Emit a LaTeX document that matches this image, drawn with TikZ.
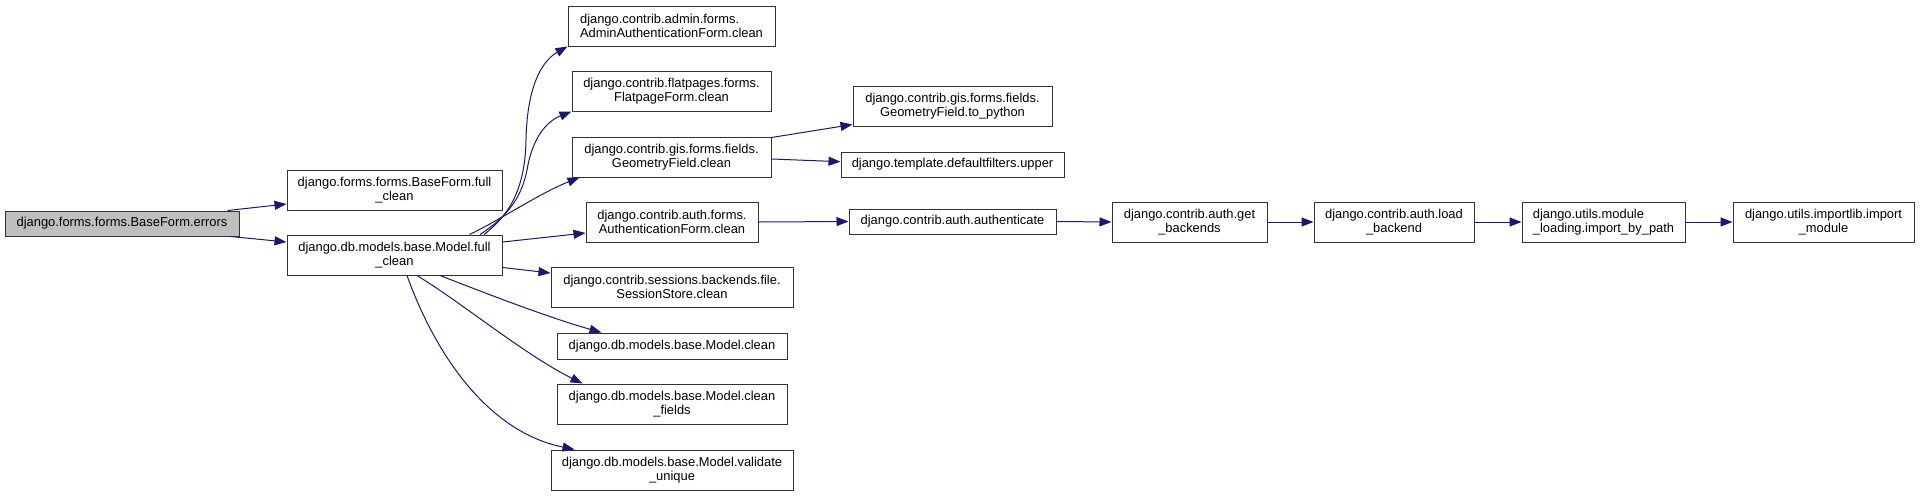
\documentclass[tikz,border=0pt]{standalone}
\usepackage{fontspec}
\setmainfont{Liberation Sans}
\usetikzlibrary{arrows.meta,calc}
\definecolor{dxblue}{HTML}{191970}
\definecolor{dxgrey}{HTML}{BFBFBF}
\definecolor{dxborder}{HTML}{333333}
\newcommand\dgfont{\fontsize{12.9}{13.6}\selectfont}
\tikzset{
  fn/.style={draw=dxborder, line width=1pt, fill=white, inner sep=0pt, align=center, font=\dgfont, text=black},
  callarrow/.style={draw=dxblue, line width=1pt, -{Triangle[length=12pt,width=9pt]}}
}
\begin{document}
\begin{tikzpicture}[x=1pt,y=-1pt]
\fill[white] (0,0) rectangle (1920,496);
\useasboundingbox (0,0) rectangle (1920,496);

\node[fn, fill=dxgrey, minimum width=234pt, minimum height=25pt] (errors) at (122,223.5) {django.forms.forms.BaseForm.errors};
\node[fn, minimum width=215pt, minimum height=40pt] (bff) at (394.5,190) {django.forms.forms.BaseForm.full\\\_clean};
\node[fn, minimum width=215pt, minimum height=40pt] (mfc) at (394.5,255) {django.db.models.base.Model.full\\\_clean};

\node[fn, align=left, minimum width=207pt, minimum height=40pt] (admin) at (671.5,26) {django.contrib.admin.forms.\\AdminAuthenticationForm.clean};
\node[fn, minimum width=199pt, minimum height=40pt] (flat) at (671.5,91) {django.contrib.flatpages.forms.\\FlatpageForm.clean};
\node[fn, minimum width=199pt, minimum height=40pt] (geo) at (671.5,157) {django.contrib.gis.forms.fields.\\GeometryField.clean};
\node[fn, minimum width=172pt, minimum height=40pt] (authf) at (672,222) {django.contrib.auth.forms.\\AuthenticationForm.clean};
\node[fn, minimum width=242pt, minimum height=40pt] (sess) at (672,287) {django.contrib.sessions.backends.file.\\SessionStore.clean};
\node[fn, minimum width=230pt, minimum height=26pt] (mclean) at (672,346) {django.db.models.base.Model.clean};
\node[fn, minimum width=230pt, minimum height=40pt] (cfields) at (672,404) {django.db.models.base.Model.clean\\\_fields};
\node[fn, minimum width=242pt, minimum height=40pt] (valid) at (672,470) {django.db.models.base.Model.validate\\\_unique};

\node[fn, minimum width=199pt, minimum height=40pt] (topy) at (952.5,106) {django.contrib.gis.forms.fields.\\GeometryField.to\_python};
\node[fn, minimum width=223pt, minimum height=25pt] (upper) at (952.5,164.5) {django.template.defaultfilters.upper};
\node[fn, minimum width=207pt, minimum height=25pt] (auth) at (952.5,221.5) {django.contrib.auth.authenticate};
\node[fn, minimum width=155pt, minimum height=40pt] (getb) at (1189.5,222) {django.contrib.auth.get\\\_backends};
\node[fn, minimum width=160pt, minimum height=40pt] (loadb) at (1394,222) {django.contrib.auth.load\\\_backend};
\node[fn, align=left, minimum width=163pt, minimum height=40pt] (ibp) at (1603.5,222) {django.utils.module\\\_loading.import\_by\_path};
\node[fn, minimum width=181pt, minimum height=40pt] (imod) at (1823.5,222) {django.utils.importlib.import\\\_module};

% edges from errors
\draw[callarrow] ($(errors.north east)+(-12,0)$) -- ($(bff.west)+(0,14)$);
\draw[callarrow] ($(errors.south east)+(-9,0)$) -- ($(mfc.west)+(0,-13)$);

% edges from Model.full_clean
\draw[callarrow] ($(mfc.north)+(89.5,0)$) .. controls (505,218) and (525,195) .. (526,140) .. controls (527,90) and (540,62) .. (admin.south west);
\draw[callarrow] ($(mfc.north)+(85.5,0)$) .. controls (510,215) and (522,195) .. (527,170) .. controls (532,140) and (545,122) .. (flat.south west);
\draw[callarrow] ($(mfc.north)+(75,0)$) .. controls (500,220) and (540,193) .. ($(geo.south west)+(8,0)$);
\draw[callarrow] ($(mfc.east)+(0,-13)$) -- ($(authf.west)+(0,11)$);
\draw[callarrow] ($(mfc.north east)+(0,33)$) -- ($(sess.west)+(0,-14)$);
\draw[callarrow] ($(mfc.south)+(45.5,0)$) .. controls (490,295) and (550,318) .. ($(mclean.north west)+(45,0)$);
\draw[callarrow] ($(mfc.south)+(22.5,0)$) .. controls (465,305) and (525,355) .. ($(cfields.north west)+(26,0)$);
\draw[callarrow] ($(mfc.south)+(12.5,0)$) .. controls (430,340) and (480,430) .. ($(valid.north west)+(24,0)$);

% from GeometryField.clean
\draw[callarrow] ($(geo.north east)+(0,1)$) -- ($(topy.south west)+(0,-2)$);
\draw[callarrow] ($(geo.east)+(0,2)$) -- ($(upper.west)+(0,-2.8)$);

% chain
\draw[callarrow] (authf.east) -- (auth.west);
\draw[callarrow] (auth.east) -- (getb.west);
\draw[callarrow] (getb.east) -- (loadb.west);
\draw[callarrow] (loadb.east) -- (ibp.west);
\draw[callarrow] (ibp.east) -- (imod.west);
\end{tikzpicture}
\end{document}
